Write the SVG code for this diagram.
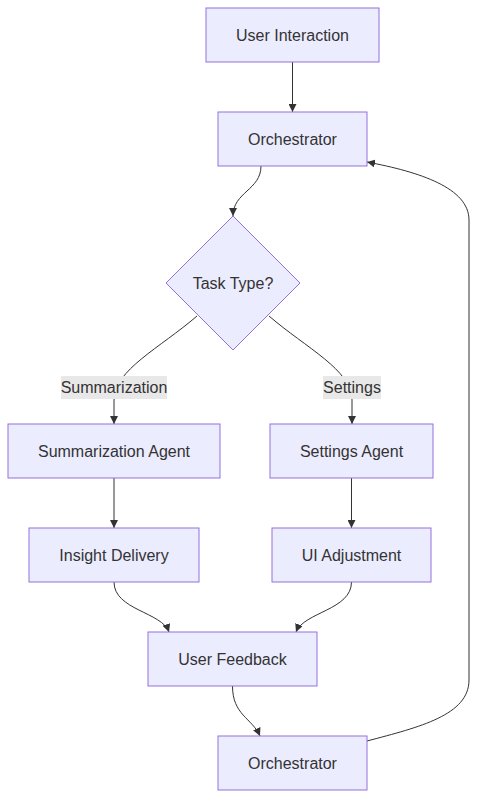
<svg xmlns="http://www.w3.org/2000/svg" width="478" height="799" viewBox="0 0 478 799">
<style>
.node rect,.node polygon{fill:#ECECFF;stroke:#9370DB;stroke-width:1}
text{font-family:"Liberation Sans",Arial,sans-serif;font-size:16px;fill:#333;text-anchor:middle;dominant-baseline:central}
.edge{fill:none;stroke:#333;stroke-width:1}
.lbl{fill:#e8e8e8}
</style>
<defs>
<marker id="arr" viewBox="0 0 10 10" refX="10" refY="5" markerWidth="8" markerHeight="8" markerUnits="userSpaceOnUse" orient="auto">
<path d="M0,0 L10,5 L0,10 z" fill="#333"/>
</marker>
</defs>
<rect width="478" height="799" fill="#fff"/>
<g id="connectors">
<path class="edge" d="M292.5,62 L292.5,112" marker-end="url(#arr)"/>
<path class="edge" d="M261,166 C261,190 233,192 233,216" marker-end="url(#arr)"/>
<path class="edge" d="M197,316 C160,348 114,370 114,400 L114,424" marker-end="url(#arr)"/>
<path class="edge" d="M269,316 C306,348 352,370 352,400 L352,424" marker-end="url(#arr)"/>
<path class="edge" d="M114,478 L114,528" marker-end="url(#arr)"/>
<path class="edge" d="M351.5,478 L351.5,528" marker-end="url(#arr)"/>
<path class="edge" d="M114,582 C114,610 162,612 169,632" marker-end="url(#arr)"/>
<path class="edge" d="M351.5,582 C351.5,610 304,612 296,632" marker-end="url(#arr)"/>
<path class="edge" d="M232.5,686 C232.5,715 252,718 260,736" marker-end="url(#arr)"/>
<path class="edge" d="M367,741 C420,727 469,715 469,680 L469,220 C469,188 420,172 367,162" marker-end="url(#arr)"/>
<rect class="lbl" x="61" y="376" width="106" height="23"/>
<text x="114" y="387.5">Summarization</text>
<rect class="lbl" x="323" y="376" width="58" height="23"/>
<text x="352" y="387.5">Settings</text>
</g>
<g id="n1" class="node"><rect x="206" y="8" width="173" height="54"/><text x="292.5" y="35">User Interaction</text></g>
<g id="n2" class="node"><rect x="218" y="112" width="149" height="54"/><text x="292.5" y="139">Orchestrator</text></g>
<g id="n3" class="node"><polygon points="233,216 300,283 233,350 166,283"/><text x="233" y="283">Task Type?</text></g>
<g id="n4" class="node"><rect x="8" y="424" width="212" height="54"/><text x="114" y="451">Summarization Agent</text></g>
<g id="n5" class="node"><rect x="270" y="424" width="163" height="54"/><text x="351.5" y="451">Settings Agent</text></g>
<g id="n6" class="node"><rect x="29" y="528" width="170" height="54"/><text x="114" y="555">Insight Delivery</text></g>
<g id="n7" class="node"><rect x="272" y="528" width="159" height="54"/><text x="351.5" y="555">UI Adjustment</text></g>
<g id="n8" class="node"><rect x="148" y="632" width="169" height="54"/><text x="232.5" y="659">User Feedback</text></g>
<g id="n9" class="node"><rect x="218" y="736" width="149" height="54"/><text x="292.5" y="763">Orchestrator</text></g>
</svg>
